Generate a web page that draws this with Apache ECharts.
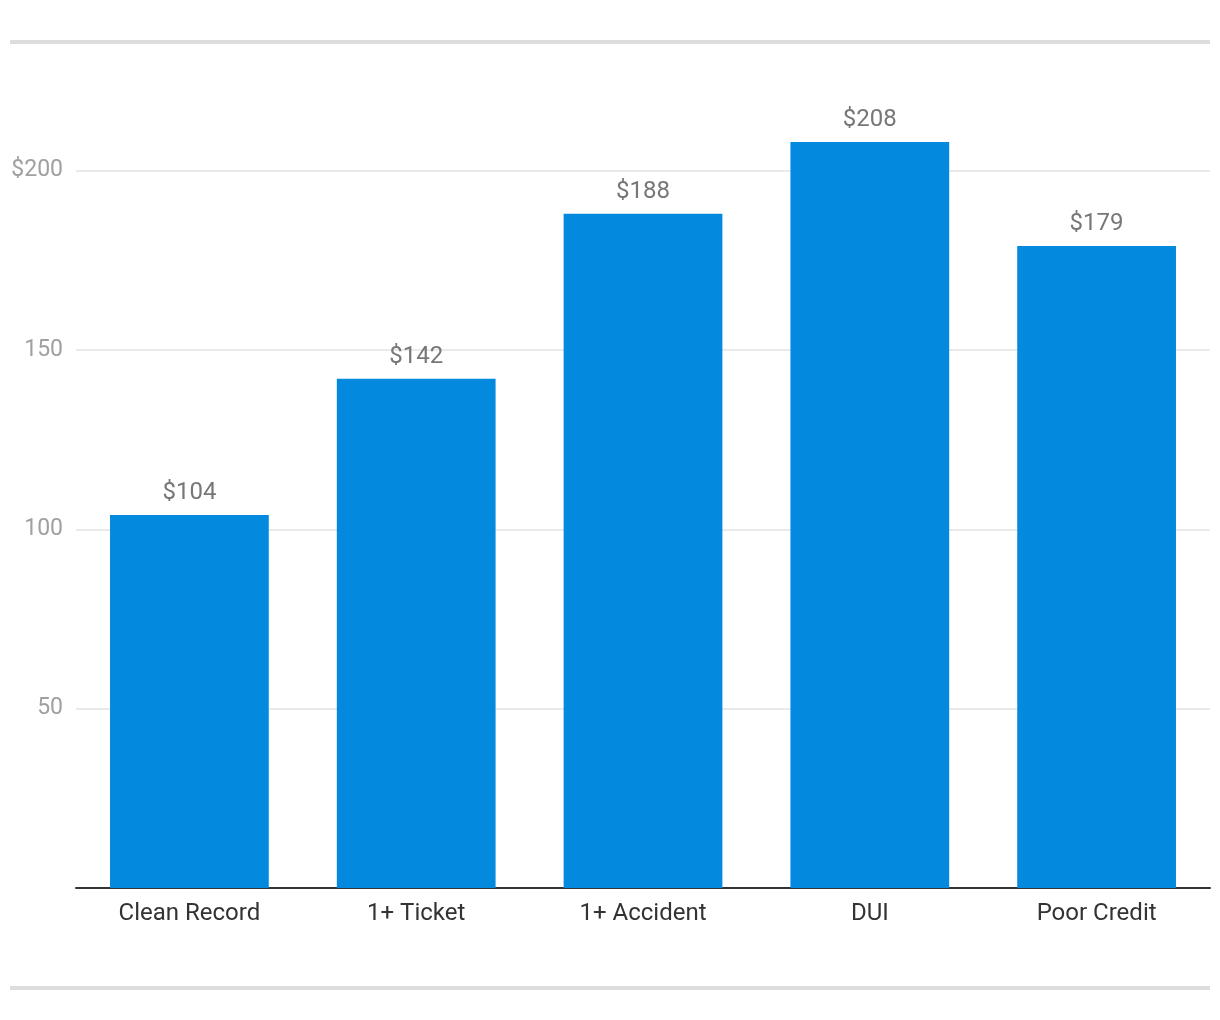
<!DOCTYPE html>
<html>
<head>
<meta charset="utf-8">
<script src="https://cdn.jsdelivr.net/npm/echarts@6/dist/echarts.min.js"></script>
<style>html,body{margin:0;padding:0;background:#fff;}#c{width:1220px;height:1020px;}</style>
</head>
<body>
<div id="c"></div>
<script>
const categories = ['Clean Record', '1+ Ticket', '1+ Accident', 'DUI', 'Poor Credit'];
const values = [104, 142, 188, 208, 179];
const yTicks = [0, 50, 100, 150, 200];

const chart = echarts.init(document.getElementById('c'), null, {renderer: 'canvas'});
chart.setOption({
  animation: false,
  backgroundColor: '#ffffff',
  textStyle: {fontFamily: 'Roboto'},
  graphic: [
    {type: 'rect', shape: {x: 10, y: 40, width: 1200, height: 4}, style: {fill: '#dddddd'}},
    {type: 'rect', shape: {x: 10, y: 986, width: 1200, height: 4}, style: {fill: '#dddddd'}}
  ],
  grid: {left: 76, right: 10, top: 81, bottom: 132, containLabel: false},
  xAxis: {
    type: 'category',
    data: categories,
    axisLine: {lineStyle: {color: '#333333', width: 2}},
    axisTick: {show: false},
    axisLabel: {color: '#333333', fontSize: 24, margin: 14, fontFamily: 'Roboto'}
  },
  yAxis: {
    type: 'value',
    min: 0,
    max: 225,
    interval: 50,
    axisLine: {show: false},
    axisTick: {show: false},
    splitLine: {show: true, showMaxLine: false, lineStyle: {color: '#e3e3e3', width: 1.5}},
    axisLabel: {
      color: '#a0a0a0', fontSize: 23, margin: 13, fontFamily: 'Roboto',
      padding: [4, 0, 0, 0],
      showMaxLabel: false,
      formatter: function (v) {
        if (v === 0) return '';
        if (v === yTicks[yTicks.length - 1]) return '$' + v;
        return String(v);
      }
    }
  },
  series: [{
    type: 'bar',
    data: values,
    barWidth: '70%',
    itemStyle: {color: '#038ADF'},
    label: {
      show: true, position: 'top', distance: 10,
      color: '#777777', fontSize: 24, fontFamily: 'Roboto',
      formatter: function (p) { return '$' + p.value; }
    }
  }]
});
</script>
</body>
</html>
